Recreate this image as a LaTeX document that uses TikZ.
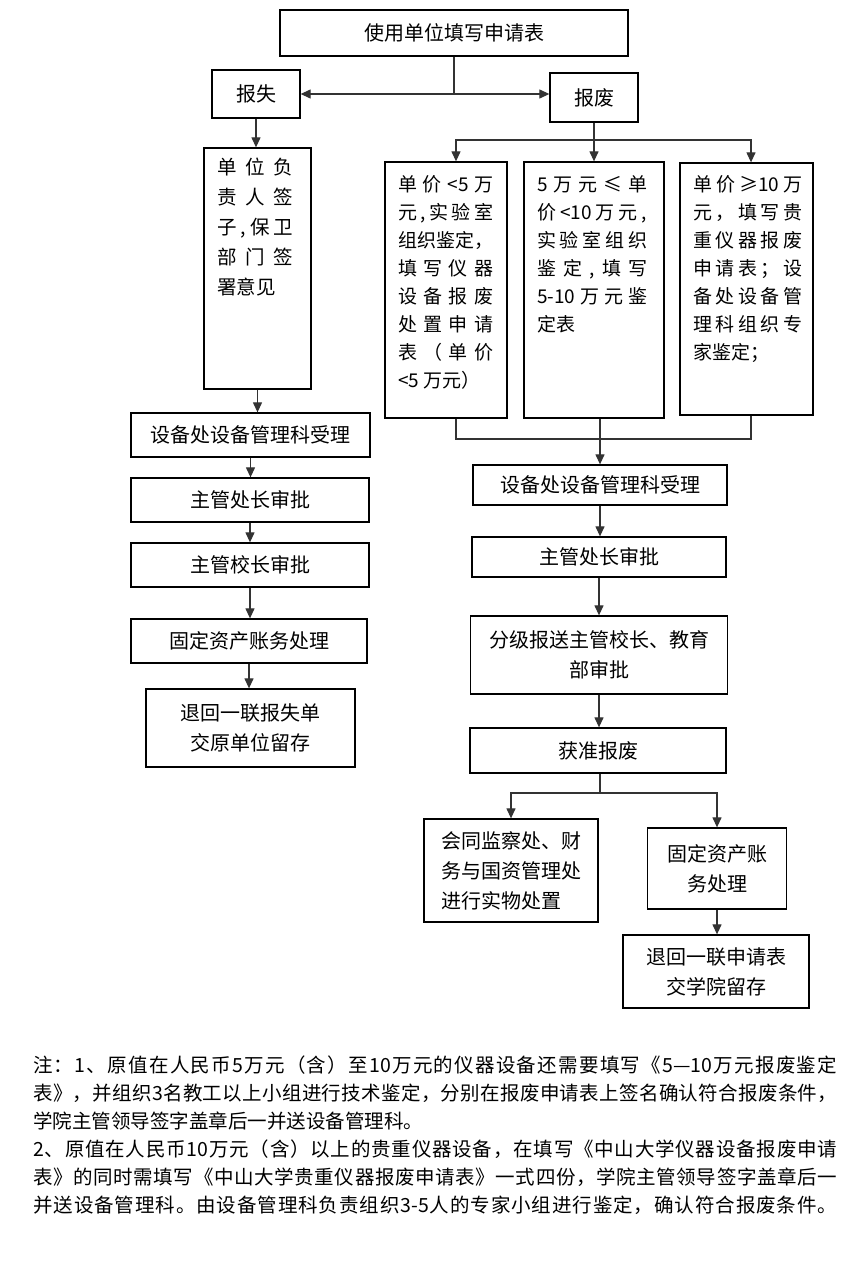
\documentclass[tikz,border=0pt]{standalone}
\usepackage{fontspec}
\setmainfont{Noto Sans CJK SC}
\usetikzlibrary{arrows.meta}
\ExplSyntaxOn
\NewDocumentCommand\spl{mm}{\hbox_to_wd:nn{#1}{\tl_map_inline:nn{#2}{##1\hfil}\unskip}}
\ExplSyntaxOff
\begin{document}
\begin{tikzpicture}[x=1pt,y=-1pt,
  box/.style={draw=black,line width=1.3pt,rectangle,inner sep=0pt,align=center,font=\fontsize{20}{30}\selectfont},
  conn/.style={draw=black!80,line width=1.2pt},
  arr/.style={conn,-{Triangle[length=10pt,width=9pt]}},
  txt/.style={inner sep=0pt,anchor=north west,align=left},
  ntxt/.style={inner sep=0pt,anchor=west,font=\fontsize{19.5}{28}\selectfont}]
\fill[white] (0,0) rectangle (865,1263);
\useasboundingbox (0,0) rectangle (865,1263);

% top
\node[box,minimum width=348pt,minimum height=46pt] (top) at (454,33) {使用单位填写申请表};
\node[box,minimum width=88pt,minimum height=48pt] (bs) at (256,94) {报失};
\node[box,minimum width=88pt,minimum height=49pt] (bf) at (594,97.5) {报废};

% left column
\node[box,minimum width=107pt,minimum height=241pt] (lb) at (257.5,268.5) {};
\node[txt,font=\fontsize{19.5}{30}\selectfont] (lbt) at (217,158) {\spl{76pt}{单位负}\\\spl{76pt}{责人签}\\\spl{76pt}{子,保卫}\\\spl{76pt}{部门签}\\署意见};
\node[box,minimum width=239pt,minimum height=44pt] (L1) at (250.5,435) {设备处设备管理科受理};
\node[box,minimum width=238pt,minimum height=44pt] (L2) at (250,500) {主管处长审批};
\node[box,minimum width=238pt,minimum height=44pt] (L3) at (250,565) {主管校长审批};
\node[box,minimum width=236pt,minimum height=44pt] (L4) at (249,641) {固定资产账务处理};
\node[box,minimum width=209pt,minimum height=78pt] (L5) at (250.5,728) {退回一联报失单\\交原单位留存};

% three boxes
\node[box,minimum width=122pt,minimum height=256pt] (r1) at (446,290) {};
\node[txt,font=\fontsize{19}{28}\selectfont] (r1t) at (398,175.5) {\spl{95pt}{单价{<5}万}\\\spl{95pt}{元,实验室}\\\spl{95pt}{组织鉴定，}\\\spl{95pt}{填写仪器}\\\spl{95pt}{设备报废}\\\spl{95pt}{处置申请}\\\spl{95pt}{表（单价}\\<5 万元）};
\node[box,minimum width=140pt,minimum height=256pt] (r2) at (594,290) {};
\node[txt,font=\fontsize{19}{28}\selectfont] (r2t) at (537,175.5) {\spl{110pt}{5万元≤单}\\\spl{110pt}{价{<10}万元,}\\\spl{110pt}{实验室组织}\\\spl{110pt}{鉴定,填写}\\\spl{110pt}{{5-10}万元鉴}\\定表};
\node[box,minimum width=133pt,minimum height=252pt] (r3) at (746.5,289) {};
\node[txt,font=\fontsize{19}{28}\selectfont] (r3t) at (693,175.5) {\spl{109pt}{单价{≥10}万}\\\spl{109pt}{元，填写贵}\\\spl{109pt}{重仪器报废}\\\spl{109pt}{申请表；设}\\\spl{109pt}{备处设备管}\\\spl{109pt}{理科组织专}\\家鉴定；};

% right column
\node[box,minimum width=254pt,minimum height=40pt] (R1) at (600,485) {设备处设备管理科受理};
\node[box,minimum width=254pt,minimum height=40pt] (R2) at (599,557) {主管处长审批};
\node[box,minimum width=257pt,minimum height=78pt] (R3) at (599,655) {分级报送主管校长、教育\\部审批};
\node[box,minimum width=256pt,minimum height=45pt] (R4) at (598,750.5) {获准报废};
\node[box,minimum width=174pt,minimum height=103pt,align=left] (R5) at (511,870.5) {会同监察处、财\\务与国资管理处\\进行实物处置};
\node[box,minimum width=139pt,minimum height=81pt] (R6) at (717,868.5) {固定资产账\\务处理};
\node[box,minimum width=186pt,minimum height=73pt] (R7) at (716,971.5) {退回一联申请表\\交学院留存};

% connectors
\coordinate (j0) at (454,94);
\draw[conn] (top.south) -- (j0);
\draw[arr] (j0) -- (bs.east);
\draw[arr] (j0) -- (j0 -| bf.west);
\draw[arr] (bs.south) -- (bs.south |- lb.north);
\draw[arr] (lb.south) -- (lb.south |- L1.north);
\draw[arr] (L1.south) -- (L1.south |- L2.north);
\draw[arr] (L2.south) -- (L2.south |- L3.north);
\draw[arr] (L3.south) -- (L3.south |- L4.north);
\draw[arr] (L4.south) -- (L4.south |- L5.north);

\coordinate (j1) at (594,140);
\draw[conn] (bf.south) -- (j1);
\draw[arr] (j1) -- (r2.north);
\draw[arr] (j1) -| ([xshift=10pt]r1.north);
\draw[arr] (j1) -| ([xshift=4.5pt]r3.north);

\coordinate (j2) at (600,439);
\draw[conn] ([xshift=10pt]r1.south) |- (j2);
\draw[conn] ([xshift=4.5pt]r3.south) |- (j2);
\draw[conn] ([xshift=6pt]r2.south) -- (j2);
\draw[arr] (j2) -- (R1.north);
\draw[arr] (R1.south) -- (R1.south |- R2.north);
\draw[arr] (R2.south) -- (R2.south |- R3.north);
\draw[arr] (R3.south) -- (R3.south |- R4.north);
\coordinate (j3) at (600,793);
\draw[conn] (R4.south -| j3) -- (j3);
\draw[arr] (j3) -| (R5.north);
\draw[arr] (j3) -| (R6.north);
\draw[arr] (R6.south) -- (R6.south |- R7.north);

% notes
\node[ntxt] (n1) at (33,1065) {\spl{804pt}{注：1、原值在人民币5万元（含）至{10}万元的仪器设备还需要填写《{5—10}万元报废鉴定}};
\node[ntxt] (n2) at (33,1093) {\spl{804pt}{表》，并组织3名教工以上小组进行技术鉴定，分别在报废申请表上签名确认符合报废条件，}};
\node[ntxt] (n3) at (33,1121) {学院主管领导签字盖章后一并送设备管理科。};
\node[ntxt] (n4) at (33,1149) {\spl{804pt}{2、原值在人民币{10}万元（含）以上的贵重仪器设备，在填写《中山大学仪器设备报废申请}};
\node[ntxt] (n5) at (33,1177) {\spl{804pt}{表》的同时需填写《中山大学贵重仪器报废申请表》一式四份，学院主管领导签字盖章后一}};
\node[ntxt] (n6) at (33,1205) {\spl{804pt}{并送设备管理科。由设备管理科负责组织{3-5}人的专家小组进行鉴定，确认符合报废条件。}};
\end{tikzpicture}
\end{document}
